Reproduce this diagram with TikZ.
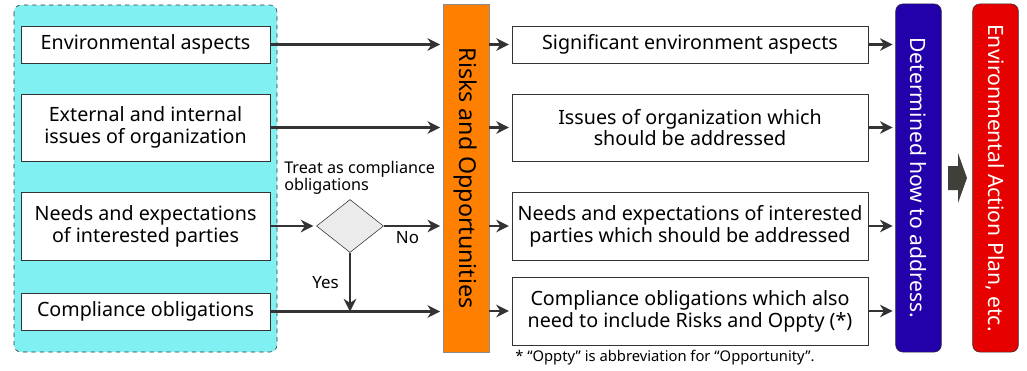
\documentclass[tikz,border=0pt]{standalone}
\usepackage{fontspec}
\setmainfont{Noto Sans}
\usetikzlibrary{arrows.meta,shapes.geometric,positioning}

\definecolor{panelcyan}{RGB}{128,240,242}
\definecolor{riskorange}{RGB}{255,128,0}
\definecolor{howblue}{RGB}{34,0,170}
\definecolor{planred}{RGB}{230,0,0}
\definecolor{linegray}{RGB}{51,51,51}
\definecolor{arrowgray}{RGB}{64,64,58}

\begin{document}
\begin{tikzpicture}[x=0.025cm,y=-0.025cm,
    >={Stealth[length=9pt,width=9pt]},
    box/.style={draw=linegray,fill=white,align=center,inner sep=0pt,
      font=\fontsize{14}{15.5}\selectfont,minimum width=6.225cm},
    rbox/.style={box,minimum width=8.9cm},
    tall/.style={rotate=-90,minimum width=8.7cm,minimum height=1.14cm,
      inner sep=0pt,font=\fontsize{15}{17}\selectfont},
    flow/.style={->,draw=linegray,line width=1.5pt,shorten >=2pt}]

  \useasboundingbox (0,0) rectangle (1027,370);

  % input panel
  \draw[dashed,draw=linegray,fill=panelcyan,rounded corners=5pt] (14,5) rectangle (277,352);

  \node[box,minimum height=0.925cm] (env)  at (145.5,44.5)  {Environmental aspects};
  \node[box,minimum height=1.675cm] (iss)  at (145.5,127.5) {External and internal\\issues of organization};
  \node[box,minimum height=1.7cm]   (need) at (145.5,226)   {Needs and expectations\\of interested parties};
  \node[box,minimum height=0.925cm] (comp) at (145.5,311.5) {Compliance obligations};

  % center column
  \node[tall,draw=black!45,fill=riskorange,font=\fontsize{16.5}{18}\selectfont] (risk) at (466,178) {Risks and Opportunities};

  \node[diamond,draw=linegray,fill=black!8,minimum width=1.675cm,minimum height=1.325cm,
    inner sep=0pt] (treat) at (350,226) {};
  \node[anchor=south west,align=left,inner sep=0pt,font=\fontsize{11.5}{12}\selectfont]
    (treatlbl) at (284,195) {Treat as compliance\\obligations};

  % outputs
  \node[rbox,minimum height=0.925cm] (sig)   at (690,44.5)  {Significant environment aspects};
  \node[rbox,minimum height=1.675cm] (oiss)  at (690,127.5) {Issues of organization which\\should be addressed};
  \node[rbox,minimum height=1.7cm]   (oneed) at (690,226)   {Needs and expectations of interested\\parties which should be addressed};
  \node[rbox,minimum height=1.7cm]   (ocomp) at (690,311)   {Compliance obligations which also\\need to include Risks and Oppty (*)};
  \node[anchor=north west,inner sep=0pt,font=\fontsize{10.5}{12}\selectfont]
    (note) at (515,350) {* “Oppty” is abbreviation for “Opportunity”.};

  \node[tall,draw=linegray,fill=howblue,text=white,rounded corners=5pt] (how)  at (918.5,178) {Determined how to address.};
  \node[tall,draw=linegray,fill=planred,text=white,rounded corners=5pt] (plan) at (995.5,178) {Environmental Action Plan, etc.};

  \fill[arrowgray] (948,166) -- (958,166) -- (958,153) -- (967,178) -- (958,203)
    -- (958,190) -- (948,190) -- cycle;

  % connectors
  \draw[flow] (env.east)  -- (env.east -| risk.south);
  \draw[flow] (iss.east)  -- (iss.east -| risk.south);
  \draw[flow] (need.east) -- (treat.west);
  \draw[flow] (treat.east) -- node[pos=0.4,below,inner sep=3pt,font=\fontsize{12}{13}\selectfont] {No} (treat.east -| risk.south);
  \draw[flow,shorten >=0pt] (treat.south) -- node[left=4pt,font=\fontsize{12}{13}\selectfont] {Yes} (treat.south |- comp.east);
  \draw[flow] (comp.east) -- (comp.east -| risk.south);

  \foreach \o in {sig,oiss,oneed,ocomp}{
    \draw[flow] (risk.north |- \o.west) -- (\o.west);
    \draw[flow] (\o.east) -- (\o.east -| how.south);
  }
\end{tikzpicture}
\end{document}
